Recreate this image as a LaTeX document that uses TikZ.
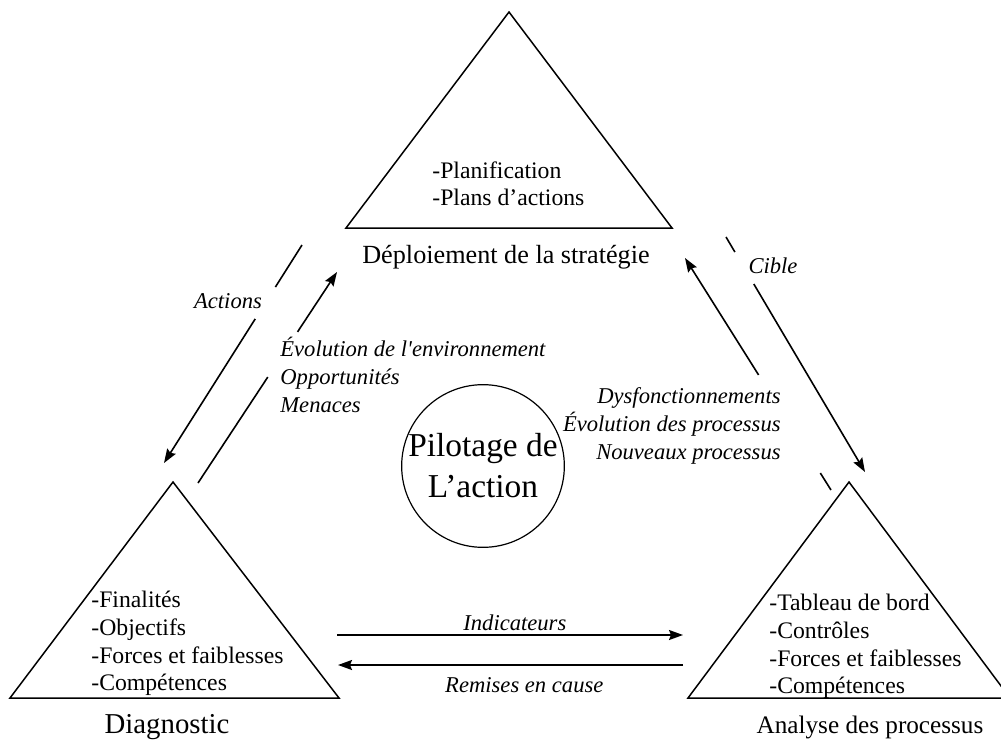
\documentclass[tikz,border=0pt]{standalone}
\usepackage{fontspec}
\setmainfont{Liberation Serif}
\usetikzlibrary{arrows.meta, calc}

\begin{document}
\begin{tikzpicture}[
    x=0.5pt, y=-0.5pt,
    tri/.style={draw, line width=0.75pt, line join=miter},
    arrow/.style={-{Stealth[length=7pt, width=5pt, inset=1pt]}, line width=0.8pt},
    title/.style={inner sep=0pt, anchor=base, font=\fontsize{13.1}{15.7}\selectfont},
    list/.style={inner sep=0pt, anchor=north west, align=left, font=\fontsize{11.85}{13.8}\selectfont},
    flow/.style={inner sep=0pt, font=\itshape\fontsize{11.3}{14}\selectfont},
]
\useasboundingbox (0,0) rectangle (1001,739);
\clip (0,0) rectangle (1001,739);

% the three poles
\coordinate (dep-a) at (509,12);   \coordinate (dep-l) at (346,228);  \coordinate (dep-r) at (672,228);
\coordinate (dia-a) at (173,482);  \coordinate (dia-l) at (10,698);   \coordinate (dia-r) at (339,698);
\coordinate (ana-a) at (849,482);  \coordinate (ana-l) at (688,698);  \coordinate (ana-r) at (1010,698);

\draw[tri] (dep-a) -- (dep-l) -- (dep-r) -- cycle;
\draw[tri] (dia-a) -- (dia-l) -- (dia-r) -- cycle;
\draw[tri] (ana-a) -- (ana-l) -- (ana-r) -- cycle;

\node[list] (dep-txt) at (432,161) {-Planification\\-Plans d’actions};
\node[list] (dia-txt) at (91,591) {-Finalités\\-Objectifs\\-Forces et faiblesses\\-Compétences};
\node[list] (ana-txt) at (769,594) {-Tableau de bord\\-Contrôles\\-Forces et faiblesses\\-Compétences};

\node[title] (dep) at (506,263) {Déploiement de la stratégie};
\node[title, font=\fontsize{14.4}{17}\selectfont] (dia) at (167,733) {Diagnostic};
\node[title, font=\fontsize{12.6}{15}\selectfont] (ana) at (870,733) {Analyse des processus};

% centre
\node[circle, draw, line width=0.6pt, minimum size=80pt, inner sep=0pt, align=center,
      font=\fontsize{16.7}{20.5}\selectfont] (pilot) at (483,466) {Pilotage de\\L’action};

% connectors
\coordinate (act-s) at (302,245);  \coordinate (act-e) at (164,463);
\coordinate (evo-s) at (198,483);  \coordinate (evo-e) at (337,272);
\coordinate (dys-s) at (831,490);  \coordinate (dys-e) at (685,258);
\coordinate (cib-s) at (726,237);  \coordinate (cib-e) at (865,472);
\coordinate (ind-s) at (337,635);  \coordinate (ind-e) at (683,635);
\coordinate (rem-s) at (683,665);  \coordinate (rem-e) at (338,665);

\draw[arrow] (act-s) -- ($(act-s)!.193!(act-e)$) ($(act-s)!.339!(act-e)$) -- (act-e);
\draw[arrow] (evo-s) -- ($(evo-s)!.502!(evo-e)$) ($(evo-s)!.716!(evo-e)$) -- (evo-e);
\draw[arrow] (dys-s) -- ($(dys-s)!.073!(dys-e)$) ($(dys-s)!.496!(dys-e)$) -- (dys-e);
\draw[arrow] (cib-s) -- ($(cib-s)!.064!(cib-e)$) ($(cib-s)!.2!(cib-e)$) -- (cib-e);
\draw[arrow] (ind-s) -- (ind-e) node[flow, pos=.514, above=1.5pt] (ind) {Indicateurs};
\draw[arrow] (rem-s) -- (rem-e) node[flow, pos=.46, below=6pt] (rem) {Remises en cause};

\node[flow, anchor=base] (act) at (228,308) {Actions};
\node[flow, anchor=base] (cib) at (773,273) {Cible};
\node[flow, anchor=north west, align=left] (evo) at (280,337)
    {Évolution de l\textquotesingle environnement\\Opportunités\\Menaces};
\node[flow, anchor=north east, align=right] (dys) at (781,387)
    {Dysfonctionnements\\Évolution des processus\\Nouveaux processus};

\end{tikzpicture}
\end{document}
